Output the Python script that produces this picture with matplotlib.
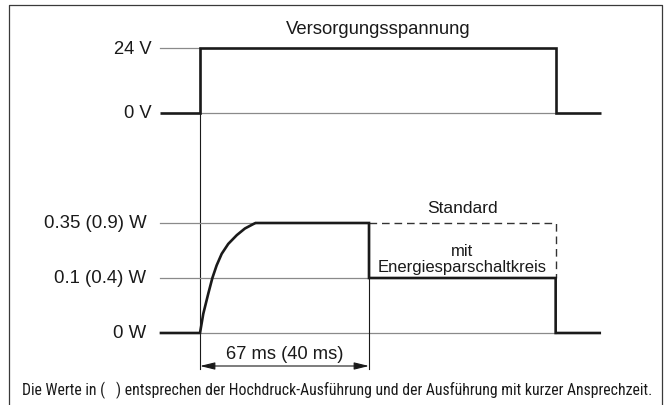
import matplotlib
matplotlib.use("Agg")
import matplotlib.pyplot as plt
from matplotlib.lines import Line2D
from matplotlib import font_manager

# ---- timing data (ms) ----
t_start = -16          # start of the drawn traces
t_on = 0               # supply switched on
t_save = 67            # switch-over to energy-saving level
t_off = 141            # supply switched off
t_end = 159            # end of the drawn traces

# supply voltage trace
supply_levels = [0, 24]
supply_labels = ["0 V", "24 V"]

# power levels (schematic positions) and their labels
power_levels = [0, 1, 2]
power_labels = ["0 W", "0.1 (0.4) W", "0.35 (0.9) W"]

# inrush ramp of the power trace, points (ms, level)
ramp_t = [0.0, 1.3, 3.3, 4.9, 6.6, 8.6, 11.2, 14.6, 17.8, 21.1, 22.0]
ramp_lv = [0.0, 0.35, 0.72, 1.0, 1.23, 1.44, 1.62, 1.78, 1.90, 1.98, 2.0]

resp_label = "67 ms (40 ms)"
title_supply = "Versorgungsspannung"
label_standard = "Standard"
label_saving = "mit\nEnergiesparschaltkreis"
footer = ("Die Werte in (   ) entsprechen der Hochdruck-Ausführung "
          "und der Ausführung mit kurzer Ansprechzeit.")

# ---- figure ----
W, H, DPI = 672, 406, 100
plt.rcParams["font.family"] = ["Liberation Sans", "DejaVu Sans"]
fig = plt.figure(figsize=(W / DPI, H / DPI), dpi=DPI)

# horizontal scale: ms -> figure, shared by both panels
x0_px, px_per_ms = 200.0, 169.0 / 67.0
xlim = (-x0_px / px_per_ms, (W - x0_px) / px_per_ms)

# voltage panel: 0 V at y=114 px, 24 V at y=49 px
v0_px, px_per_v = 114.0, 65.0 / 24.0
ax_v = fig.add_axes([0, 0, 1, 1])
ax_v.set_xlim(*xlim)
ax_v.set_ylim((v0_px - H) / px_per_v, v0_px / px_per_v)
ax_v.axis("off")

# power panel: level 0 at y=334 px, 55 px per level step
p0_px, px_per_lv = 334.0, 55.0
ax_p = fig.add_axes([0, 0, 1, 1])
ax_p.set_xlim(*xlim)
ax_p.set_ylim((p0_px - H) / px_per_lv, p0_px / px_per_lv)
ax_p.axis("off")

ink = "#1a1a1a"
thick = dict(color=ink, lw=1.9, solid_joinstyle="miter", solid_capstyle="butt")
thin_grey = dict(color="#8a8a8a", lw=0.9)
thin_black = dict(color=ink, lw=0.8)

# ---- voltage panel ----
v_lo, v_hi = supply_levels
ax_v.plot([t_start, t_on], [v_hi, v_hi], **thin_grey)
ax_v.plot([t_on, t_off], [v_lo, v_lo], **thin_grey)
ax_v.plot([t_start, t_on, t_on, t_off, t_off, t_end],
          [v_lo, v_lo, v_hi, v_hi, v_lo, v_lo], **thick, zorder=3)
for lv, lab in zip(supply_levels, supply_labels):
    ax_v.annotate(lab, (t_start, lv), xytext=(-5.8, 0), textcoords="offset points",
                  ha="right", va="center", fontsize=13.2, color=ink)
ax_v.annotate(title_supply, ((t_on + t_off) / 2, v_hi), xytext=(0, 14),
              textcoords="offset points", ha="center", va="center",
              fontsize=13.3, color=ink)

# ---- power panel ----
p_lo, p_mid, p_hi = power_levels
ax_p.plot([t_start, ramp_t[-1]], [p_hi, p_hi], **thin_grey)
ax_p.plot([t_start, t_save], [p_mid, p_mid], **thin_grey)
ax_p.plot([t_on, t_off], [p_lo, p_lo], **thin_grey)

power_t = [t_start] + ramp_t + [t_save, t_save, t_off, t_off, t_end]
power_lv = [p_lo] + ramp_lv + [p_hi, p_mid, p_mid, p_lo, p_lo]
ax_p.plot(power_t, power_lv, **thick, zorder=3)

# standard (no saving) continuation, dashed
ax_p.plot([t_save, t_off, t_off], [p_hi, p_hi, p_mid], color="#333333", lw=1.0,
          dashes=(5.5, 3.5), zorder=2)

for lv, lab in zip(power_levels, power_labels):
    ax_p.annotate(lab, (t_start, lv), xytext=(-9.4, 0), textcoords="offset points",
                  ha="right", va="center", fontsize=13.4, color=ink)

mid_save = (t_save + t_off) / 2
ax_p.annotate(label_standard, (mid_save, p_hi), xytext=(0, 11),
              textcoords="offset points", ha="center", va="center",
              fontsize=12.5, color=ink)
ax_p.annotate(label_saving, (mid_save, (p_hi + p_mid) / 2), xytext=(0, -5.5),
              textcoords="offset points", ha="center", va="center",
              fontsize=12, color=ink, linespacing=1.1)

# response-time dimension
dim_lv = -0.6
ax_v.plot([t_on, t_on], [v_hi, (v0_px - (p0_px - (dim_lv - 0.06) * px_per_lv)) / px_per_v],
          **thin_black, zorder=2)
ax_p.plot([t_save, t_save], [p_hi, dim_lv - 0.06], **thin_black, zorder=2)
ax_p.annotate("", xy=(t_on, dim_lv), xytext=(t_save, dim_lv),
              arrowprops=dict(arrowstyle="<|-|>,head_length=0.9,head_width=0.22",
                              color=ink, lw=0.8, shrinkA=0, shrinkB=0))
ax_p.annotate(resp_label, ((t_on + t_save) / 2, dim_lv), xytext=(0, 9),
              textcoords="offset points", ha="center", va="center",
              fontsize=13.2, color=ink)

# ---- frame and footnote ----
fx0, fx1, fy1 = 8.5 / W, 661.5 / W, 1 - 5.5 / H
fig.add_artist(Line2D([fx0, fx0, fx1, fx1], [0, fy1, fy1, 0],
                      transform=fig.transFigure, color="#3a3a3a", lw=0.9))

# footnote in a condensed face when one is installed
installed = {f.name for f in font_manager.fontManager.ttflist}
note_family = [n for n in ("Roboto Condensed", "Open Sans Condensed",
                           "Liberation Sans Narrow", "DejaVu Sans Condensed")
               if n in installed] + ["Liberation Sans", "DejaVu Sans"]
note = fig.text(337 / W, 1 - 390 / H, footer, ha="center", va="center",
                fontsize=12, color=ink, family=note_family,
                fontstretch="condensed")
# shrink the footnote so it fits between the frame lines
renderer = fig.canvas.get_renderer()
width_px = note.get_window_extent(renderer).width
note.set_fontsize(min(13.0, 12 * 630.0 / width_px))

fig.savefig("out.png", dpi=DPI, facecolor="white")
